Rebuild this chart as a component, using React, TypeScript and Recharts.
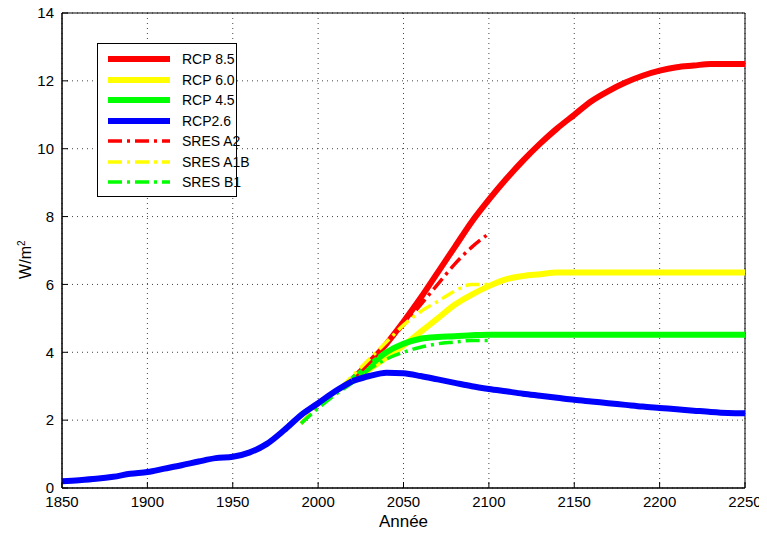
import { CartesianGrid, Line, LineChart, XAxis, YAxis, ReferenceArea } from "recharts";

const years = [1850,1860,1870,1880,1890,1900,1910,1920,1930,1940,1950,1960,1970,1980,1990,2000,2010,2020,2030,2040,2050,2060,2070,2080,2090,2100,2110,2120,2130,2140,2150,2160,2170,2180,2190,2200,2210,2220,2230,2240,2250];
const hist = [0.2,0.23,0.27,0.33,0.42,0.47,0.57,0.67,0.78,0.88,0.92,1.05,1.3,1.7,2.15,2.5,2.85,3.15];
const rcp85 = [3.2,3.7,4.25,4.9,5.6,6.35,7.1,7.85,8.5,9.1,9.65,10.15,10.6,11.0,11.4,11.7,11.95,12.15,12.3,12.4,12.45,12.5,12.5,12.5];
const rcp60 = [3.2,3.5,3.85,4.2,4.6,5.0,5.4,5.7,5.95,6.15,6.25,6.3,6.35,6.35,6.35,6.35,6.35,6.35,6.35,6.35,6.35,6.35,6.35,6.35];
const rcp45 = [3.2,3.6,4.0,4.25,4.4,4.45,4.47,4.5,4.52,4.52,4.52,4.52,4.52,4.52,4.52,4.52,4.52,4.52,4.52,4.52,4.52,4.52,4.52,4.52];
const rcp26 = [3.15,3.3,3.4,3.38,3.3,3.2,3.1,3.0,2.92,2.85,2.78,2.72,2.66,2.6,2.55,2.5,2.45,2.4,2.36,2.32,2.28,2.24,2.21,2.2];
const sresA2 = [1.9,2.4,2.8,3.2,3.7,4.25,4.8,5.4,6.0,6.6,7.1,7.5];
const sresA1B = [1.9,2.4,2.8,3.3,3.8,4.3,4.8,5.2,5.5,5.8,6.0,6.0];
const sresB1 = [1.9,2.35,2.75,3.1,3.5,3.8,4.0,4.15,4.25,4.3,4.35,4.35];
const xTicks = [1850,1900,1950,2000,2050,2100,2150,2200,2250];
const yTicks = [0,2,4,6,8,10,12,14];

const FUT = 17; // index of 2020
const SRES0 = 14; // index of 1990
const data = years.map((year, i) => ({
  year,
  hist: i <= FUT ? hist[i] : undefined,
  rcp85: i >= FUT ? rcp85[i - FUT] : undefined,
  rcp60: i >= FUT ? rcp60[i - FUT] : undefined,
  rcp45: i >= FUT ? rcp45[i - FUT] : undefined,
  rcp26: i >= FUT ? rcp26[i - FUT] : undefined,
  sresA2: i >= SRES0 && i - SRES0 < sresA2.length ? sresA2[i - SRES0] : undefined,
  sresA1B: i >= SRES0 && i - SRES0 < sresA1B.length ? sresA1B[i - SRES0] : undefined,
  sresB1: i >= SRES0 && i - SRES0 < sresB1.length ? sresB1[i - SRES0] : undefined,
}));

const DASH = "14 5 3 5";
const legend = [
  { label: "RCP 8.5", color: "#ff0000", dash: "" },
  { label: "RCP 6.0", color: "#ffff00", dash: "" },
  { label: "RCP 4.5", color: "#00ff00", dash: "" },
  { label: "RCP2.6", color: "#0000ff", dash: "" },
  { label: "SRES A2", color: "#ff0000", dash: DASH },
  { label: "SRES A1B", color: "#ffff00", dash: DASH },
  { label: "SRES B1", color: "#00ff00", dash: DASH },
];

const font = "'Liberation Sans', Arial, sans-serif";

export default function App() {
  return (
    <div style={{ position: "relative", width: 767, height: 537, margin: -8, fontFamily: font, background: "#fff" }}>
      <LineChart width={767} height={537} data={data} margin={{ top: 13, right: 22, bottom: 0, left: 22 }}>
        <CartesianGrid stroke="#444" strokeDasharray="1 4" />
        <XAxis dataKey="year" type="number" domain={[1850, 2250]} ticks={xTicks} height={49}
          tick={{ fontSize: 15, fill: "#000" }} tickSize={-6} tickMargin={14} stroke="#000"
          label={{ value: "Année", position: "insideBottom", offset: 10, fontSize: 17, fill: "#000" }} />
        <YAxis type="number" domain={[0, 14]} ticks={yTicks} width={40}
          tick={{ fontSize: 15, fill: "#000" }} tickSize={-6} tickMargin={14} stroke="#000" />
        <ReferenceArea x1={1850} x2={2250} y1={0} y2={14} fill="none" stroke="#000" ifOverflow="visible" />
        <Line type="monotone" dataKey="rcp85" stroke="#ff0000" strokeWidth={6} dot={false} isAnimationActive={false} />
        <Line type="monotone" dataKey="rcp60" stroke="#ffff00" strokeWidth={6} dot={false} isAnimationActive={false} />
        <Line type="monotone" dataKey="rcp45" stroke="#00ff00" strokeWidth={6} dot={false} isAnimationActive={false} />
        <Line type="monotone" dataKey="sresA2" stroke="#ff0000" strokeWidth={3.5} strokeDasharray={DASH} dot={false} isAnimationActive={false} />
        <Line type="monotone" dataKey="sresA1B" stroke="#ffff00" strokeWidth={3.5} strokeDasharray={DASH} dot={false} isAnimationActive={false} />
        <Line type="monotone" dataKey="sresB1" stroke="#00ff00" strokeWidth={3.5} strokeDasharray={DASH} dot={false} isAnimationActive={false} />
        <Line type="monotone" dataKey="rcp26" stroke="#0000ff" strokeWidth={6} dot={false} isAnimationActive={false} />
        <Line type="monotone" dataKey="hist" stroke="#0000ff" strokeWidth={6} dot={false} isAnimationActive={false} />
      </LineChart>
      <div style={{ position: "absolute", left: 6, top: 250, transform: "rotate(-90deg)", fontSize: 16 }}>
        W/m<sup style={{ fontSize: 10 }}>2</sup>
      </div>
      <div style={{ position: "absolute", left: 97, top: 43, width: 140, height: 154, border: "1px solid #000", background: "#fff", boxSizing: "border-box", padding: "5px 0 0 10px" }}>
        {legend.map((l) => (
          <div key={l.label} style={{ display: "flex", alignItems: "center", height: 20.5, fontSize: 14, whiteSpace: "nowrap" }}>
            <svg width={62} height={10} style={{ marginRight: 12, flexShrink: 0 }}>
              <line x1={0} y1={5} x2={62} y2={5} stroke={l.color} strokeWidth={l.dash ? 3.5 : 6} strokeDasharray={l.dash || undefined} />
            </svg>
            {l.label}
          </div>
        ))}
      </div>
    </div>
  );
}
